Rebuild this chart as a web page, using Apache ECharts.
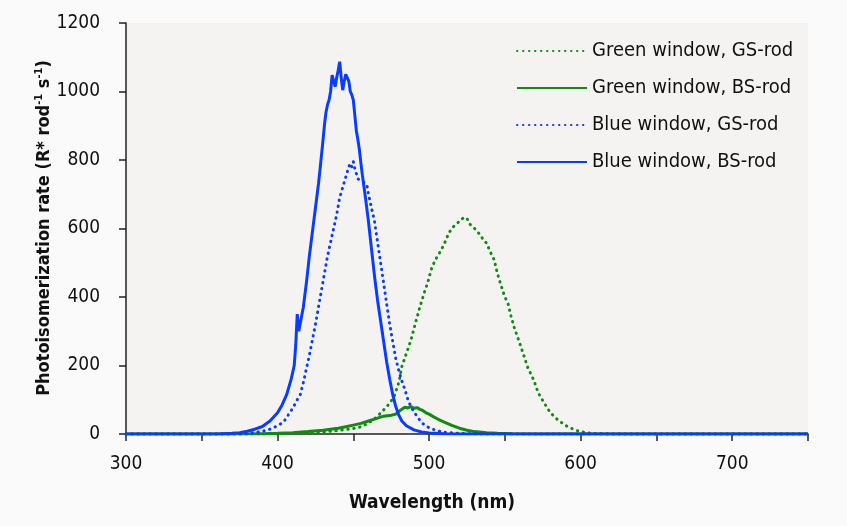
<!DOCTYPE html>
<html>
<head>
<meta charset="utf-8">
<script src="https://cdn.jsdelivr.net/npm/echarts@6/dist/echarts.min.js"></script>
<style>
html,body{margin:0;padding:0;background:#fafafa;}
#c{width:847px;height:526px;}
</style>
</head>
<body>
<div id="c"></div>
<script>
const seriesNames = ['Green window, GS-rod','Green window, BS-rod','Blue window, GS-rod','Blue window, BS-rod'];
const xTicks = [300,400,500,600,700];
const yTicks = [0,200,400,600,800,1000,1200];

const greenGS = [[300,0],[400,0],[420,3],[430,6],[440,10],[450,16],[455,21],[460,32],[465,48],[468,61],[471,75],[474,90],[477,110],[480,150],[482,197],[485,235],[488,274],[491,324],[494,372],[497,415],[499,441],[502,489],[505,515],[508,537],[511,565],[513,587],[516,605],[519,617],[521,625],[522,620],[523,632],[524,628],[525,630],[526,618],[527,612],[528,615],[530,600],[532,590],[534,580],[536,565],[538,557],[540,535],[543,508],[545,470],[547,440],[550,400],[552,382],[554,345],[556,313],[559,275],[562,236],[565,195],[569,158],[572,120],[576,90],[580,62],[585,41],[590,25],[596,12],[600,7],[605,3],[612,1],[620,0],[750,0]];

const greenBS = [[300,0],[380,0],[390,1],[400,2],[410,4],[420,7],[430,11],[440,17],[445,21],[450,26],[455,31],[460,38],[465,45],[470,52],[475,55],[478,58],[480,66],[482,72],[484,78],[486,76],[488,80],[490,75],[492,77],[494,72],[496,68],[498,62],[500,58],[503,50],[506,43],[510,35],[515,25],[520,17],[525,11],[530,7],[538,4],[545,2],[555,1],[570,0],[750,0]];

const blueGS = [[300,0],[375,0],[380,2],[385,4],[390,8],[395,14],[400,24],[404,35],[407,55],[410,75],[413,100],[415,115],[417,150],[419,190],[421,230],[423,275],[425,320],[427,370],[429,420],[431,470],[433,520],[435,560],[437,600],[439,640],[441,690],[443,720],[445,750],[447,780],[448,790],[449,780],[450,795],[451,775],[452,770],[453,745],[454,750],[455,740],[456,745],[457,735],[458,740],[459,725],[460,700],[462,660],[464,620],[466,560],[468,500],[470,440],[472,380],[474,320],[476,270],[478,220],[480,185],[482,155],[484,130],[486,100],[488,80],[490,65],[493,45],[496,30],[500,18],[505,10],[510,5],[520,2],[530,0],[750,0]];

const blueBS = [[300,0],[360,0],[370,2],[375,4],[380,8],[385,14],[390,22],[395,38],[400,62],[403,85],[406,115],[409,160],[411,200],[412,260],[413,350],[414,300],[415,300],[417,370],[419,440],[421,520],[423,590],[425,660],[427,730],[428,771],[429,815],[430,858],[431,905],[432,940],[433,962],[434,975],[435,1000],[436,1048],[437,1050],[438,1014],[439,1040],[440,1062],[441,1087],[442,1040],[443,1004],[444,1030],[445,1050],[446,1053],[447,1030],[448,1000],[449,990],[450,975],[451,930],[452,885],[453,860],[454,830],[455,790],[456,755],[458,690],[460,620],[462,540],[464,460],[466,390],[468,330],[470,270],[472,210],[474,160],[476,115],[478,80],[480,55],[482,38],[485,24],[490,12],[495,6],[500,3],[510,1],[520,0],[750,0]];

const GREEN = '#0f8c0f';
const BLUE = '#0a3cff';
const FONT = '"Liberation Sans Narrow","DejaVu Sans Condensed",sans-serif';

const chart = echarts.init(document.getElementById('c'), null, {renderer:'canvas'});
const mk = (name, data, color, dotted) => ({
  name, type:'line', data, symbol:'none', showSymbol:false, smooth:false,
  lineStyle:{color, width: dotted?3:3, type: dotted?[0.4,5.6]:'solid', cap: dotted?'round':'butt'},
  itemStyle:{color},
  animation:false
});
chart.setOption({
  backgroundColor:'#fafafa',
  animation:false,
  grid:{left:126,right:39,top:23,bottom:92,show:true,backgroundColor:'#f4f3f1',borderWidth:0},
  legend:{
    orient:'vertical', left:511, top:34, itemWidth:70, itemHeight:14, itemGap:13,
    data:seriesNames,
    itemStyle:{opacity:0},
    textStyle:{fontFamily:FONT,fontSize:20,color:'#111',lineHeight:24}
  },
  xAxis:{
    type:'value', min:300, max:750, interval:50,
    axisLine:{lineStyle:{color:'#222',width:1.5}},
    axisTick:{show:true,length:7,lineStyle:{color:'#222',width:1.5}},
    splitLine:{show:false},
    axisLabel:{margin:21,fontFamily:FONT,fontSize:19,color:'#111',
      formatter:v=> xTicks.indexOf(v)>=0 ? String(v) : ''}
  },
  yAxis:{
    type:'value', min:0, max:1200, interval:200,
    axisLine:{show:true,lineStyle:{color:'#222',width:1.5}},
    axisTick:{show:true,length:7,lineStyle:{color:'#222',width:1.5}},
    splitLine:{show:false},
    axisLabel:{margin:26,fontFamily:FONT,fontSize:19,color:'#111',
      formatter:v=> yTicks.indexOf(v)>=0 ? String(v) : ''}
  },
  graphic:[
    {type:'text', x:432, y:503, style:{text:'Wavelength (nm)', font:'bold 19px '+FONT, fill:'#111', align:'center', verticalAlign:'middle'}},
    {type:'text', x:44, y:228, rotation:Math.PI/2, style:{
      text:'{a|Photoisomerization rate (R* rod}{s|-1}{a| s}{s|-1}{a|)}',
      align:'center', verticalAlign:'middle',
      rich:{a:{font:'bold 18px '+FONT, fill:'#111'}, s:{font:'bold 11px '+FONT, fill:'#111', verticalAlign:'top', padding:[0,0,9,0]}}
    }}
  ],
  series:[
    mk(seriesNames[0], greenGS, GREEN, true),
    mk(seriesNames[1], greenBS, GREEN, false),
    mk(seriesNames[2], blueGS, BLUE, true),
    mk(seriesNames[3], blueBS, BLUE, false)
  ]
});
</script>
</body>
</html>
